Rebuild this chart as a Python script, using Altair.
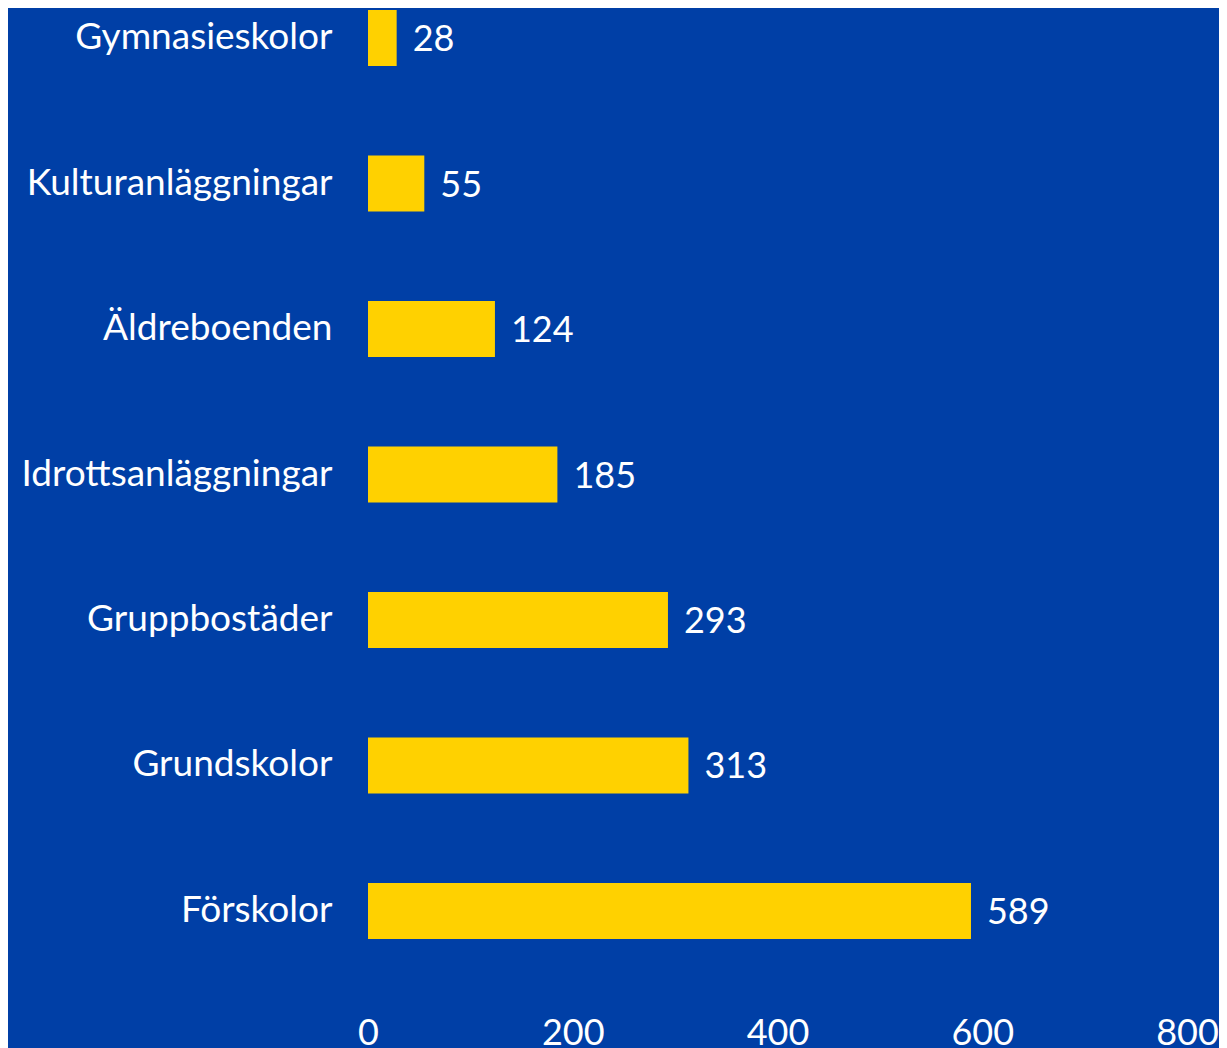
import altair as alt
import pandas as pd

categories = ["Gymnasieskolor", "Kulturanläggningar", "Äldreboenden", "Idrottsanläggningar",
              "Gruppbostäder", "Grundskolor", "Förskolor"]
values = [28, 55, 124, 185, 293, 313, 589]
x_ticks = [0, 200, 400, 600, 800]

df = pd.DataFrame({"kategori": categories, "antal": values})

BG = "#003FA6"
YELLOW = "#FFD100"
FONT = "Lato"
FS = 37

y = alt.Y("kategori:N", sort=categories, title=None,
          scale=alt.Scale(paddingInner=0.615, paddingOuter=0.014),
          axis=alt.Axis(labelFontSize=FS, labelColor="white", labelFont=FONT,
                        labelPadding=36, ticks=False, domain=False, labelLimit=400))
x = alt.X("antal:Q", title=None,
          scale=alt.Scale(domain=[0, 800], nice=False),
          axis=alt.Axis(values=x_ticks, labelFontSize=36, labelColor="white", labelFont=FONT,
                        labelPadding=75, ticks=False, domain=False, grid=False,
                        labelFlush=False))

bars = alt.Chart(df).mark_bar(color=YELLOW).encode(x=x, y=y)
labels = alt.Chart(df).mark_text(align="left", baseline="middle", dx=16, dy=2,
                                 fontSize=36, color="white", font=FONT).encode(
    x="antal:Q", y=alt.Y("kategori:N", sort=categories), text="antal:Q")

chart = (bars + labels).properties(
    width=819, height=933,
    padding={"left": 360, "top": 0, "right": 32, "bottom": 107},
    autosize=alt.AutoSizeParams(type="none"),
).configure(background=BG).configure_view(stroke=None)

chart.save("out.html", embed_options={"renderer": "svg", "actions": False})
